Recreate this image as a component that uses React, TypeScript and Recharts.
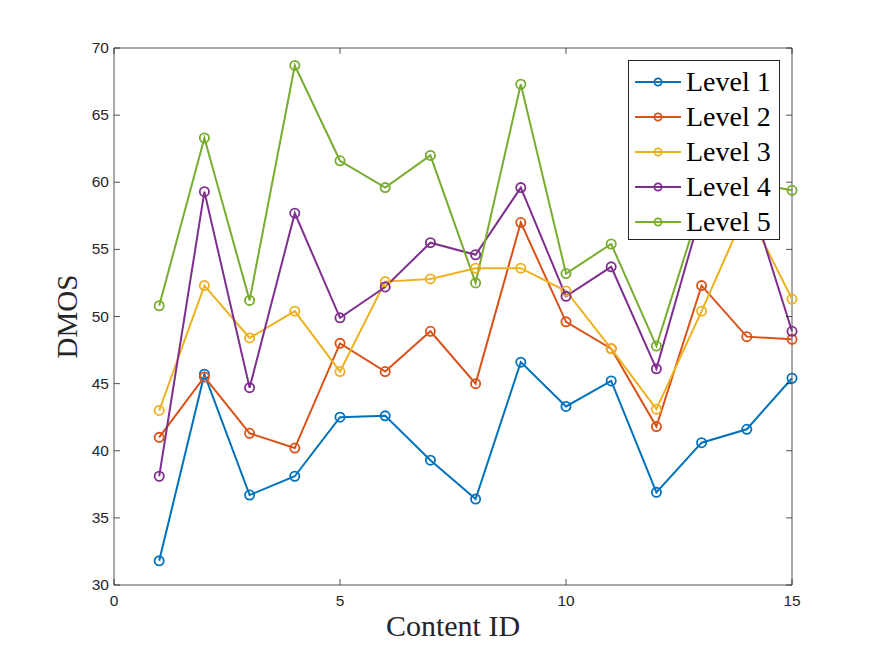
import { LineChart, Line, XAxis, YAxis, Legend, Label, ReferenceLine } from "recharts";

const contentIds = [1, 2, 3, 4, 5, 6, 7, 8, 9, 10, 11, 12, 13, 14, 15];
const level1 = [31.8, 45.7, 36.7, 38.1, 42.5, 42.6, 39.3, 36.4, 46.6, 43.3, 45.2, 36.9, 40.6, 41.6, 45.4];
const level2 = [41.0, 45.5, 41.3, 40.2, 48.0, 45.9, 48.9, 45.0, 57.0, 49.6, 47.6, 41.8, 52.3, 48.5, 48.3];
const level3 = [43.0, 52.3, 48.4, 50.4, 45.9, 52.6, 52.8, 53.6, 53.6, 51.9, 47.6, 43.1, 50.4, 58.0, 51.3];
const level4 = [38.1, 59.3, 44.7, 57.7, 49.9, 52.2, 55.5, 54.6, 59.6, 51.5, 53.7, 46.1, 57.9, 59.6, 48.9];
const level5 = [50.8, 63.3, 51.2, 68.7, 61.6, 59.6, 62.0, 52.5, 67.3, 53.2, 55.4, 47.8, 58.5, 60.0, 59.4];

const xTicks = [0, 5, 10, 15];
const yTicks = [30, 35, 40, 45, 50, 55, 60, 65, 70];

const SERIES = [
  { key: "l1", name: "Level 1", values: level1, color: "#0072BD" },
  { key: "l2", name: "Level 2", values: level2, color: "#D95319" },
  { key: "l3", name: "Level 3", values: level3, color: "#EDB120" },
  { key: "l4", name: "Level 4", values: level4, color: "#7E2F8E" },
  { key: "l5", name: "Level 5", values: level5, color: "#77AC30" },
];

const data = contentIds.map((id, i) => {
  const row: Record<string, number> = { id };
  SERIES.forEach((s) => (row[s.key] = s.values[i]));
  return row;
});

const AXIS = "#262626";
const TICK_LEN = 6;
const tickFont = { fontFamily: "Liberation Sans, Arial, sans-serif", fontSize: 15.5, fill: AXIS };

// matlab style: ticks point inward, also mirrored on top/right
const BottomTick = ({ x, y, payload }: any) => (
  <g>
    <line x1={x} x2={x} y1={y} y2={y - TICK_LEN} stroke={AXIS} strokeWidth={0.8} />
    <line x1={x} x2={x} y1={48} y2={48 + TICK_LEN} stroke={AXIS} strokeWidth={0.8} />
    <text x={x} y={y + 21} textAnchor="middle" {...tickFont}>
      {payload.value}
    </text>
  </g>
);

const LeftTick = ({ x, y, payload }: any) => (
  <g>
    <line x1={x} x2={x + TICK_LEN} y1={y} y2={y} stroke={AXIS} strokeWidth={0.8} />
    <line x1={792} x2={792 - TICK_LEN} y1={y} y2={y} stroke={AXIS} strokeWidth={0.8} />
    <text x={x - 5} y={y + 5} textAnchor="end" {...tickFont}>
      {payload.value}
    </text>
  </g>
);

const serif = "Liberation Serif, Times New Roman, serif";

const LegendBox = () => (
  <div
    style={{
      border: `1px solid ${AXIS}`,
      background: "#fff",
      width: 152,
      height: 180,
      paddingTop: 4,
      boxSizing: "border-box",
    }}
  >
    {SERIES.map((s) => (
      <div key={s.key} style={{ display: "flex", alignItems: "center", height: 34.8, paddingLeft: 6 }}>
        <svg width={46} height={14}>
          <line x1={0} x2={46} y1={7} y2={7} stroke={s.color} strokeWidth={2} />
          <circle cx={23} cy={7} r={3.6} fill="none" stroke={s.color} strokeWidth={1.8} />
        </svg>
        <span style={{ marginLeft: 5, fontFamily: serif, fontSize: 28, color: "#000", lineHeight: 1 }}>
          {s.name}
        </span>
      </div>
    ))}
  </div>
);

export default function App() {
  return (
    <div style={{ position: "absolute", left: 0, top: 0, width: 876, height: 657, background: "#fff" }}>
      <LineChart width={876} height={657} data={data} margin={{ top: 48, right: 84, bottom: 42, left: 54 }}>
        <XAxis
          dataKey="id"
          type="number"
          domain={[0, 15]}
          ticks={xTicks}
          interval={0}
          height={30}
          tickSize={0}
          tickMargin={0}
          tick={<BottomTick />}
          axisLine={{ stroke: AXIS, strokeWidth: 0.8 }}
        >
          <Label
            content={({ viewBox }: any) => (
              <text
                x={viewBox.x + viewBox.width / 2}
                y={viewBox.y + 51}
                textAnchor="middle"
                fontFamily={serif}
                fontSize={30}
                fill={AXIS}
              >
                Content ID
              </text>
            )}
          />
        </XAxis>
        <YAxis
          type="number"
          domain={[30, 70]}
          ticks={yTicks}
          interval={0}
          width={60}
          tickSize={0}
          tickMargin={0}
          tick={<LeftTick />}
          axisLine={{ stroke: AXIS, strokeWidth: 0.8 }}
        >
          <Label
            content={({ viewBox }: any) => {
              const cx = viewBox.x + 23;
              const cy = viewBox.y + viewBox.height / 2;
              return (
                <text
                  x={cx}
                  y={cy}
                  transform={`rotate(-90 ${cx} ${cy})`}
                  textAnchor="middle"
                  fontFamily={serif}
                  fontSize={29}
                  fill={AXIS}
                >
                  DMOS
                </text>
              );
            }}
          />
        </YAxis>
        {/* box frame */}
        <ReferenceLine y={70} stroke={AXIS} strokeWidth={0.8} />
        <ReferenceLine x={15} stroke={AXIS} strokeWidth={0.8} />
        {SERIES.map((s) => (
          <Line
            key={s.key}
            dataKey={s.key}
            name={s.name}
            type="linear"
            stroke={s.color}
            strokeWidth={2}
            dot={{ r: 4.6, fill: "none", stroke: s.color, strokeWidth: 1.8 }}
            activeDot={false}
            isAnimationActive={false}
          />
        ))}
        <Legend
          layout="horizontal"
          verticalAlign="middle"
          align="center"
          content={<LegendBox />}
          wrapperStyle={{ position: "absolute", left: 628, top: 60, width: 152 }}
        />
      </LineChart>
    </div>
  );
}
